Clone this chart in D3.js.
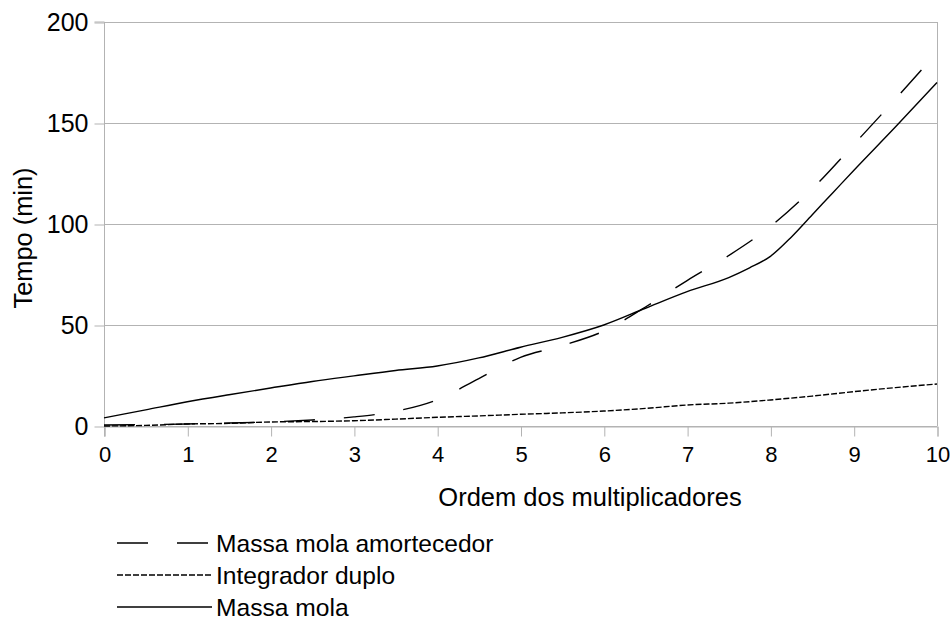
<!DOCTYPE html>
<html>
<head>
<meta charset="utf-8">
<script src="https://cdn.jsdelivr.net/npm/d3@7"></script>
<style>
  html, body { margin: 0; padding: 0; background: #fff; }
  svg { display: block; }
  text { font-family: "Liberation Sans", Arial, sans-serif; fill: #000; }
</style>
</head>
<body>
<svg id="chart" width="951" height="623"></svg>
<script>
// ---- data ----
const xValues = [0, 0.5, 1, 1.5, 2, 2.5, 3, 3.5, 4, 4.5, 5, 5.5, 6, 6.5, 7, 7.5, 8, 8.5, 9, 9.5, 10];
const massaMolaAmortecedor = [0.5, 0.7, 1, 1.5, 2, 3, 4.5, 7.3, 13, 23.5, 34, 39.8, 47, 58.9, 72, 84.4, 98.8, 117.3, 139.3, 161.8, 185];
const integradorDuplo = [0, 0.3, 1, 1.3, 2, 2.2, 2.6, 3.4, 4.3, 5, 5.8, 6.5, 7.4, 8.7, 10.4, 11.3, 12.9, 14.8, 17, 19, 20.8];
const massaMolaX = [0, 0.5, 1, 1.5, 2, 2.5, 3, 3.5, 4, 4.5, 5, 5.5, 6, 6.5, 7, 7.5, 7.75, 8, 8.25, 8.5, 8.75, 9, 9.5, 10];
const massaMola = [4, 8, 12, 15.5, 18.8, 22, 24.8, 27.5, 29.7, 33.7, 39, 43.9, 50, 58.3, 66.5, 73.5, 78.3, 84, 93.5, 104.5, 115.5, 126.5, 148, 170];
const seriesNames = ["Massa mola amortecedor", "Integrador duplo", "Massa mola"];
const xTicks = [0, 1, 2, 3, 4, 5, 6, 7, 8, 9, 10];
const yTicks = [0, 50, 100, 150, 200];
const xTitle = "Ordem dos multiplicadores";
const yTitle = "Tempo (min)";

// ---- layout ----
const svg = d3.select("#chart");
const pL = 104, pR = 937, pT = 22, pB = 426;
const x = d3.scaleLinear().domain([0, 10]).range([pL, pR]);
const y = d3.scaleLinear().domain([0, 200]).range([pB, pT]);
const grid = "#b3b3b3";

// gridlines
svg.append("g").selectAll("line").data(yTicks).join("line")
  .attr("x1", pL).attr("x2", pR)
  .attr("y1", d => y(d) + 0.5).attr("y2", d => y(d) + 0.5)
  .attr("stroke", grid).attr("stroke-width", 1);
// right border
svg.append("line").attr("x1", pR + 0.5).attr("x2", pR + 0.5)
  .attr("y1", pT).attr("y2", pB).attr("stroke", grid);

// axes
const yAxis = svg.append("g").attr("transform", `translate(${pL + 0.5},0.5)`)
  .call(d3.axisLeft(y).tickValues(yTicks).tickSize(10).tickPadding(6));
yAxis.selectAll("text").attr("font-size", 25).attr("fill", "#000")
  .attr("font-family", "Liberation Sans, Arial, sans-serif");
const xAxis = svg.append("g").attr("transform", `translate(0.5,${pB + 0.5})`)
  .call(d3.axisBottom(x).tickValues(xTicks).tickSize(10).tickPadding(10));
xAxis.selectAll("text").attr("font-size", 22).attr("fill", "#000")
  .attr("font-family", "Liberation Sans, Arial, sans-serif");
[yAxis, xAxis].forEach(a => {
  a.selectAll("path.domain").attr("stroke", grid);
  a.selectAll(".tick line").attr("stroke", grid);
});
yAxis.select("path.domain").attr("d", `M-10,${pT - 0.5}H0V${pB + 10}`);

// titles
svg.append("text").attr("x", 590).attr("y", 506).attr("text-anchor", "middle")
  .attr("font-size", 25.5).text(xTitle);
svg.append("text").attr("transform", `translate(32,238) rotate(-90)`)
  .attr("text-anchor", "middle").attr("font-size", 25.4).text(yTitle);

// series
const styles = [
  { xs: xValues, data: massaMolaAmortecedor, dash: "31,29" },
  { xs: xValues, data: integradorDuplo, dash: "6,2" },
  { xs: massaMolaX, data: massaMola, dash: null }
];
styles.forEach(s => {
  const line = d3.line().x((d, i) => x(s.xs[i])).y(d => y(d)).curve(d3.curveMonotoneX);
  svg.append("path").datum(s.data).attr("d", line)
    .attr("fill", "none").attr("stroke", "#000").attr("stroke-width", 1.4)
    .attr("stroke-dasharray", s.dash);
});

// legend
const leg = svg.append("g");
seriesNames.forEach((name, i) => {
  const ly = 543 + i * 32;
  leg.append("line").attr("x1", 117).attr("x2", i === 0 ? 208 : 212)
    .attr("y1", ly).attr("y2", ly).attr("stroke", "#000").attr("stroke-width", 1.4)
    .attr("stroke-dasharray", styles[i].dash);
  leg.append("text").attr("x", 216).attr("y", ly + 9).attr("font-size", 24.6).text(name);
});
</script>
</body>
</html>
